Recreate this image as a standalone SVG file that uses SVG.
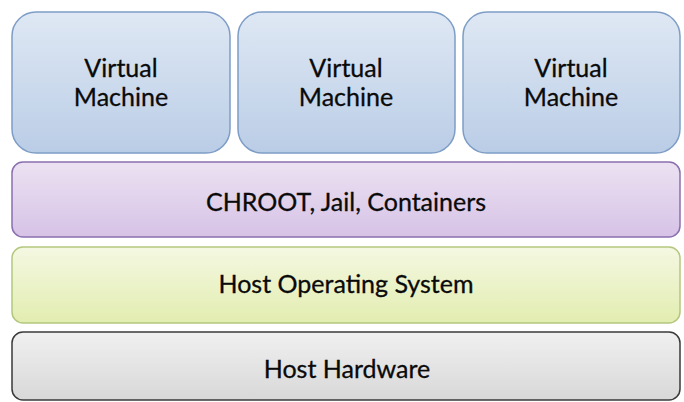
<svg xmlns="http://www.w3.org/2000/svg" width="684" height="402" viewBox="0 0 684 402">
<defs>
<linearGradient id="gVM" x1="0" y1="0" x2="0" y2="1"><stop offset="0" stop-color="#dfe8f4"/><stop offset="1" stop-color="#bacde6"/></linearGradient>
<linearGradient id="gCH" x1="0" y1="0" x2="0" y2="1"><stop offset="0" stop-color="#ece2f2"/><stop offset="1" stop-color="#d6c2e6"/></linearGradient>
<linearGradient id="gOS" x1="0" y1="0" x2="0" y2="1"><stop offset="0" stop-color="#f4f8e2"/><stop offset="1" stop-color="#e2edb0"/></linearGradient>
<linearGradient id="gHW" x1="0" y1="0" x2="0" y2="1"><stop offset="0" stop-color="#f0f0f0"/><stop offset="1" stop-color="#d8d8d8"/></linearGradient>
</defs>
<style>
.vm{fill:url(#gVM);stroke:#7e9dc6;stroke-width:1.5}
.ch{fill:url(#gCH);stroke:#8a6fae;stroke-width:1.5}
.os{fill:url(#gOS);stroke:#b3c77e;stroke-width:1.5}
.hw{fill:url(#gHW);stroke:#3a3a3a;stroke-width:1.5}
text{font-family:Lato,"Open Sans",sans-serif;font-size:25px;fill:#0a0a0a;stroke:#0a0a0a;stroke-width:0.3;text-anchor:middle}
</style>
<rect width="684" height="402" fill="#ffffff"/>
<g id="vm1"><rect class="vm" x="12" y="12" width="218" height="141" rx="24"/><text x="121" y="77">Virtual</text><text x="121" y="106">Machine</text></g>
<g id="vm2"><rect class="vm" x="238" y="12" width="217" height="141" rx="24"/><text x="346" y="77">Virtual</text><text x="346" y="106">Machine</text></g>
<g id="vm3"><rect class="vm" x="463" y="12" width="217" height="141" rx="24"/><text x="571" y="77">Virtual</text><text x="571" y="106">Machine</text></g>
<g id="chroot"><rect class="ch" x="12" y="162" width="668" height="75" rx="11"/><text x="346" y="211">CHROOT, Jail, Containers</text></g>
<g id="hostos"><rect class="os" x="12" y="247" width="668" height="76" rx="11"/><text x="346" y="293">Host Operating System</text></g>
<g id="hosthw"><rect class="hw" x="12" y="332" width="668" height="68" rx="11"/><text x="347" y="378">Host Hardware</text></g>
<g id="connectors"/>
</svg>
